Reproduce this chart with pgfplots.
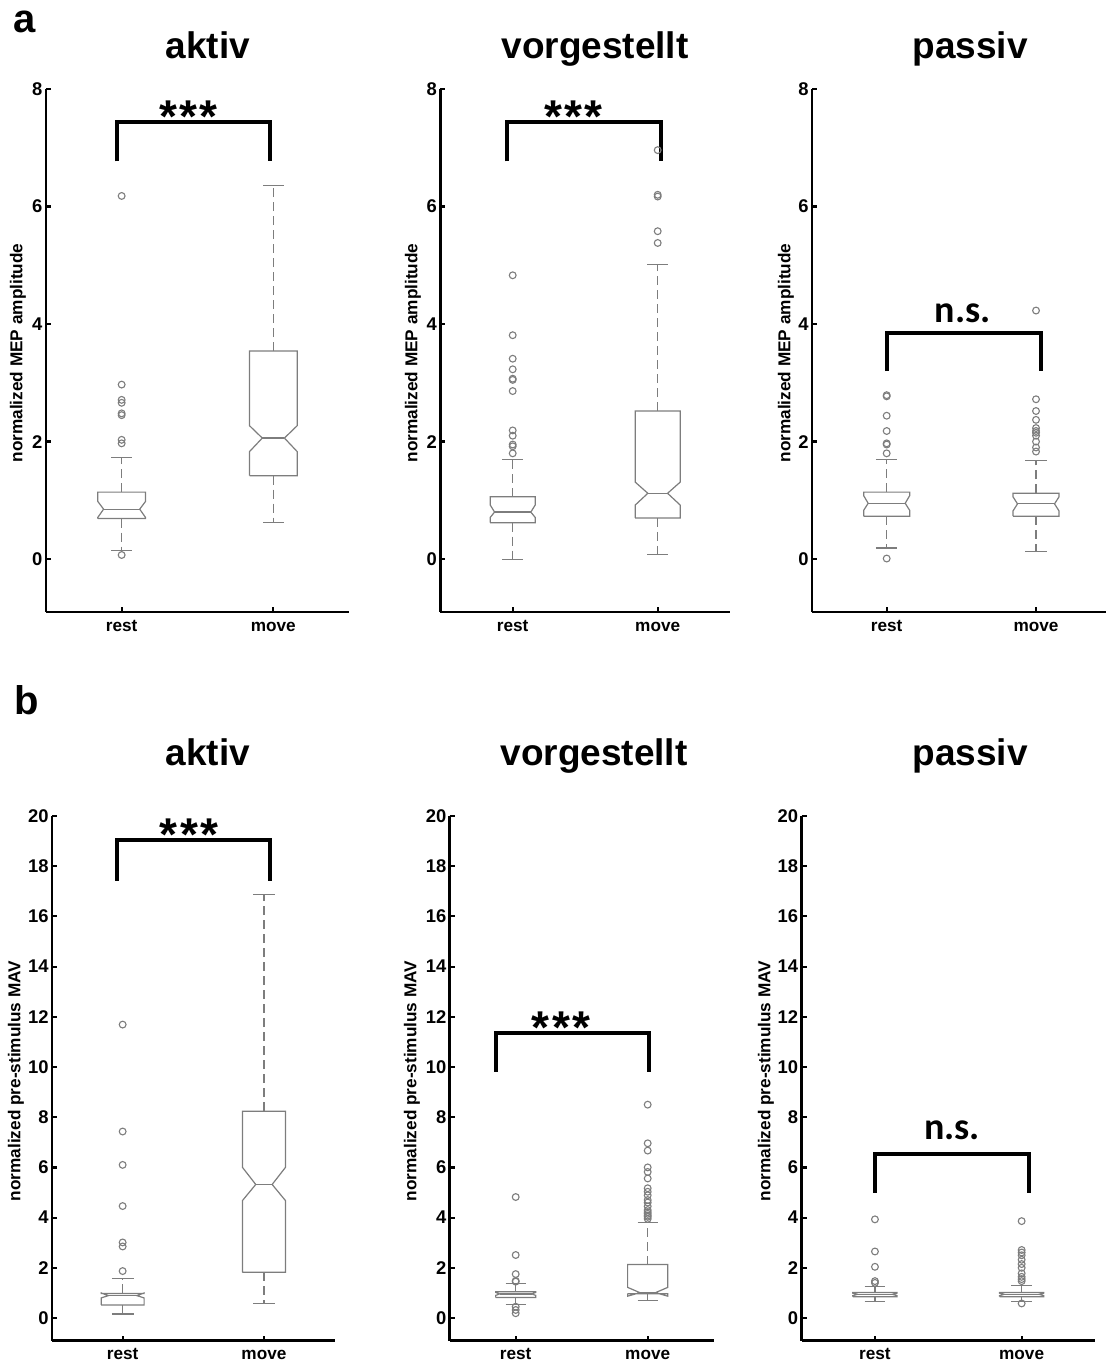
\documentclass[border=0pt]{standalone}
\usepackage{fontspec}
\setmainfont{Liberation Sans}
\newfontfamily\nsfont{Carlito}
\usepackage{pgfplots}
\pgfplotsset{compat=1.18}

\definecolor{boxgray}{RGB}{125,125,125}

\tikzset{
  boxline/.style={boxgray, line width=0.6pt, mark=none},
  whisk/.style={boxline, dash pattern=on 4.5pt off 2.5pt},
  outl/.style={only marks, mark=o, mark size=1.7pt, boxgray, mark options={line width=0.55pt, solid}},
  brk/.style={line width=2pt, black, line cap=butt, line join=miter},
  stars/.style={font=\bfseries\fontsize{23}{26}\selectfont, anchor=base, yshift=-10.8pt, inner sep=0pt},
  ns/.style={font=\nsfont\bfseries\fontsize{19}{22}\selectfont, anchor=base, inner sep=0pt},
  ttl/.style={font=\bfseries\fontsize{18.5}{22}\selectfont, anchor=base, inner sep=0pt},
  ylab/.style={font=\bfseries\fontsize{8.6}{10}\selectfont, rotate=90, anchor=center, inner sep=0pt},
}
\newcommand{\stars}{*\kern1.2pt*\kern1.2pt*}

\pgfplotsset{
  mep/.style={
    scale only axis, axis lines=left,
    axis line style={-, line width=1.3pt, black},
    xmin=0.5, xmax=2.5, xtick={1,2}, xticklabels={rest,move},
    tick align=inside, major tick length=2.5pt,
    tick style={line width=1.1pt, black},
    yticklabel style={font=\bfseries\fontsize{9.2}{11}\selectfont, inner sep=1.5pt},
    /pgf/number format/assume math mode=true,
    xticklabel style={font=\bfseries\fontsize{8.6}{10}\selectfont, inner sep=0pt, text height=7.2pt, text depth=0pt, yshift=-2.2pt},
    clip=false,
  },
  rowa/.style={mep, height=261.5pt, ymin=-0.9, ymax=8, ytick={0,2,4,6,8}},
  rowb/.style={mep, height=262.3pt, ymin=-0.9, ymax=20, ytick={0,2,...,20}},
}

% #1 x, #2 lower whisker, #3 q1, #4 notch low, #5 median, #6 notch high, #7 q3, #8 upper whisker, #9 notch inset
\newcommand{\nbox}[9]{%
  \pgfmathsetmacro\bxL{#1-\bw}%
  \pgfmathsetmacro\bxR{#1+\bw}%
  \pgfmathsetmacro\bxIL{#1-\bw+#9}%
  \pgfmathsetmacro\bxIR{#1+\bw-#9}%
  \pgfmathsetmacro\capL{#1-\cw}%
  \pgfmathsetmacro\capR{#1+\cw}%
  \addplot[boxline] coordinates {(\bxL,#3) (\bxL,#4) (\bxIL,#5) (\bxL,#6) (\bxL,#7) (\bxR,#7) (\bxR,#6) (\bxIR,#5) (\bxR,#4) (\bxR,#3) (\bxL,#3)};
  \addplot[boxline] coordinates {(\bxIL,#5) (\bxIR,#5)};
  \addplot[whisk] coordinates {(#1,#7) (#1,#8)};
  \addplot[whisk] coordinates {(#1,#3) (#1,#2)};
  \addplot[boxline] coordinates {(\capL,#8) (\capR,#8)};
  \addplot[boxline] coordinates {(\capL,#2) (\capR,#2)};
}

\begin{document}
\begin{tikzpicture}
\useasboundingbox (0,0) rectangle (553.5pt,680.5pt);

% ---------------- row a ----------------
\begin{axis}[rowa, at={(22.9pt,374.5pt)}, anchor=south west, width=151.7pt]
  \def\bw{0.157}\def\cw{0.068}
  \nbox{1}{0.15}{0.69}{0.71}{0.85}{0.98}{1.14}{1.73}{0.038}
  \nbox{2}{0.62}{1.42}{1.83}{2.06}{2.27}{3.54}{6.36}{0.084}
  \addplot[outl] coordinates {(1,0.07) (1,1.97) (1,2.03) (1,2.45) (1,2.48) (1,2.66) (1,2.71) (1,2.97) (1,6.18)};
  \draw[brk] (axis cs:0.97,6.77) -- (axis cs:0.97,7.44) -- (axis cs:1.98,7.44) -- (axis cs:1.98,6.77);
  \node[stars] at (axis cs:1.44,7.62) {\stars};
\end{axis}

\begin{axis}[rowa, at={(220.1pt,374.5pt)}, anchor=south west, width=145pt]
  \def\bw{0.155}\def\cw{0.072}
  \nbox{1}{0.0}{0.62}{0.71}{0.80}{0.92}{1.06}{1.70}{0.03}
  \nbox{2}{0.085}{0.70}{0.92}{1.12}{1.31}{2.52}{5.02}{0.087}
  \addplot[outl] coordinates {(1,1.80) (1,1.92) (1,1.95) (1,2.10) (1,2.19) (1,2.86) (1,3.05) (1,3.07) (1,3.23) (1,3.41) (1,3.81) (1,4.83)};
  \addplot[outl] coordinates {(2,5.38) (2,5.58) (2,6.17) (2,6.20) (2,6.96)};
  \draw[brk] (axis cs:0.96,6.77) -- (axis cs:0.96,7.44) -- (axis cs:2.02,7.44) -- (axis cs:2.02,6.77);
  \node[stars] at (axis cs:1.42,7.62) {\stars};
\end{axis}

\begin{axis}[rowa, at={(406pt,374.5pt)}, anchor=south west, width=147.1pt, xmax=2.47]
  \def\bw{0.154}\def\cw{0.072}
  \nbox{1}{0.19}{0.73}{0.83}{0.95}{1.08}{1.14}{1.70}{0.03}
  \nbox{2}{0.13}{0.73}{0.82}{0.94}{1.06}{1.12}{1.68}{0.03}
  \addplot[outl] coordinates {(1,0.01) (1,1.80) (1,1.95) (1,1.97) (1,2.18) (1,2.44) (1,2.77) (1,2.79)};
  \addplot[outl] coordinates {(2,1.83) (2,1.90) (2,2.00) (2,2.10) (2,2.15) (2,2.18) (2,2.23) (2,2.37) (2,2.52) (2,2.72) (2,4.23)};
  \draw[brk] (axis cs:1.0,3.20) -- (axis cs:1.0,3.85) -- (axis cs:2.03,3.85) -- (axis cs:2.03,3.20);
  \node[ns] at (axis cs:1.51,4.03) {n.s.};
\end{axis}

% ---------------- row b ----------------
\begin{axis}[rowb, at={(26pt,10.2pt)}, anchor=south west, width=141.3pt]
  \def\bw{0.152}\def\cw{0.077}
  \nbox{1}{0.16}{0.52}{0.80}{0.89}{1.00}{0.98}{1.57}{0.05}
  \nbox{2}{0.57}{1.82}{4.68}{5.32}{6.00}{8.24}{16.88}{0.094}
  \addplot[outl] coordinates {(1,1.87) (1,2.85) (1,3.01) (1,4.46) (1,6.10) (1,7.43) (1,11.69)};
  \draw[brk] (axis cs:0.96,17.43) -- (axis cs:0.96,19.04) -- (axis cs:2.04,19.04) -- (axis cs:2.04,17.43);
  \node[stars] at (axis cs:1.47,19.5) {\stars};
\end{axis}

\begin{axis}[rowb, at={(224.85pt,10.2pt)}, anchor=south west, width=132pt]
  \def\bw{0.152}\def\cw{0.077}
  \nbox{1}{0.55}{0.82}{0.90}{0.96}{1.02}{1.05}{1.38}{0.03}
  \nbox{2}{0.69}{0.97}{0.87}{1.01}{1.22}{2.13}{3.82}{0.093}
  \addplot[outl] coordinates {(1,0.19) (1,0.32) (1,0.45) (1,1.45) (1,1.48) (1,1.75) (1,2.51) (1,4.82)};
  \addplot[outl] coordinates {(2,3.95) (2,4.03) (2,4.08) (2,4.15) (2,4.22) (2,4.30) (2,4.45) (2,4.60) (2,4.70) (2,4.89) (2,5.03) (2,5.17) (2,5.56) (2,5.82) (2,6.00) (2,6.67) (2,6.96) (2,8.50)};
  \draw[brk] (axis cs:0.85,9.81) -- (axis cs:0.85,11.35) -- (axis cs:2.01,11.35) -- (axis cs:2.01,9.81);
  \node[stars] at (axis cs:1.345,11.8) {\stars};
\end{axis}

\begin{axis}[rowb, at={(400.8pt,10.2pt)}, anchor=south west, width=146.7pt]
  \def\bw{0.151}\def\cw{0.07}
  \nbox{1}{0.65}{0.85}{0.89}{0.94}{0.99}{1.02}{1.27}{0.03}
  \nbox{2}{0.65}{0.85}{0.89}{0.94}{0.99}{1.02}{1.28}{0.03}
  \addplot[outl] coordinates {(1,1.40) (1,1.47) (1,2.04) (1,2.65) (1,3.93)};
  \addplot[outl] coordinates {(2,0.58) (2,1.47) (2,1.55) (2,1.64) (2,1.78) (2,2.00) (2,2.15) (2,2.32) (2,2.50) (2,2.61) (2,2.71) (2,3.86)};
  \draw[brk] (axis cs:1.0,5.00) -- (axis cs:1.0,6.53) -- (axis cs:2.05,6.53) -- (axis cs:2.05,5.00);
  \node[ns] at (axis cs:1.525,7.1) {n.s.};
\end{axis}

% ---------------- texts ----------------
\node[font=\bfseries\fontsize{20}{24}\selectfont, anchor=base west, inner sep=0pt] at (6.5pt,664pt) {a};
\node[font=\bfseries\fontsize{20}{24}\selectfont, anchor=base west, inner sep=0pt] at (7pt,323pt) {b};

\node[ttl] at (104pt,651pt) {aktiv};
\node[ttl] at (297.5pt,651pt) {vorgestellt};
\node[ttl] at (485pt,651pt) {passiv};
\node[ttl] at (104pt,297.5pt) {aktiv};
\node[ttl] at (297pt,297.5pt) {vorgestellt};
\node[ttl] at (485pt,297.5pt) {passiv};

\node[ylab] at (9pt,504pt) {normalized MEP amplitude};
\node[ylab] at (206.5pt,504pt) {normalized MEP amplitude};
\node[ylab] at (393pt,504pt) {normalized MEP amplitude};
\node[ylab] at (8pt,140pt) {normalized pre-stimulus MAV};
\node[ylab] at (206pt,140pt) {normalized pre-stimulus MAV};
\node[ylab] at (383pt,140pt) {normalized pre-stimulus MAV};
\end{tikzpicture}
\end{document}
